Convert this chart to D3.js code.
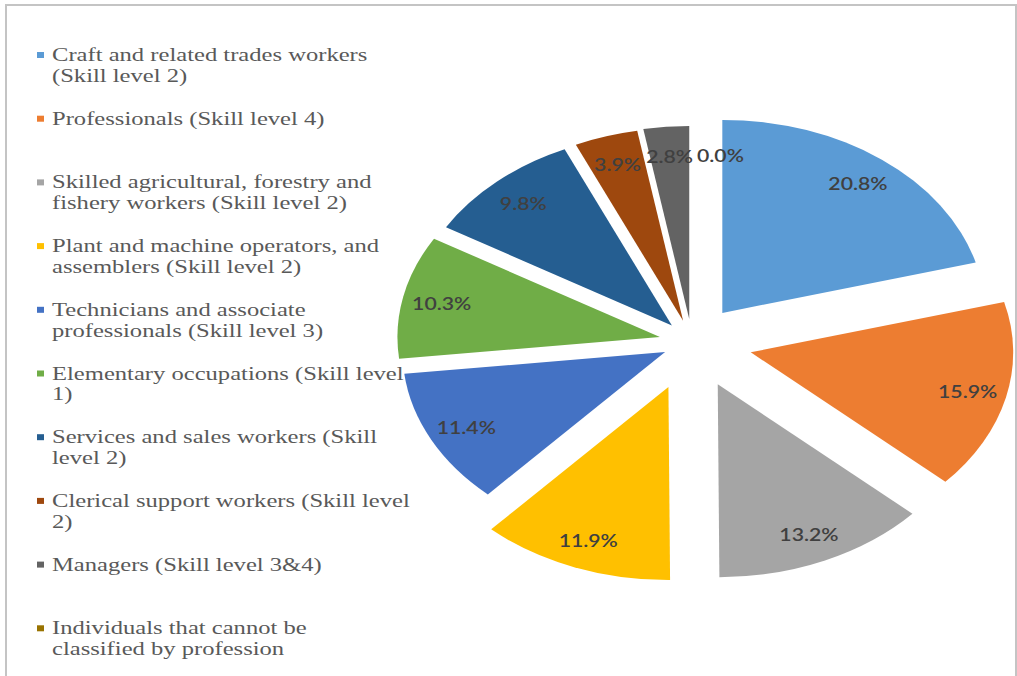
<!DOCTYPE html>
<html>
<head>
<meta charset="utf-8">
<script src="https://cdn.jsdelivr.net/npm/d3@7"></script>
<style>
  html, body { margin: 0; padding: 0; background: #fff; }
  svg { display: block; }
</style>
</head>
<body>
<svg id="chart" width="1017" height="676"></svg>
<script>
// ---- data ----
const categories = [
  "Craft and related trades workers (Skill level 2)",
  "Professionals (Skill level 4)",
  "Skilled agricultural, forestry and fishery workers (Skill level 2)",
  "Plant and machine operators, and assemblers (Skill level 2)",
  "Technicians and associate professionals (Skill level 3)",
  "Elementary occupations (Skill level 1)",
  "Services and sales workers (Skill level 2)",
  "Clerical support workers (Skill level 2)",
  "Managers (Skill level 3&4)",
  "Individuals that cannot be classified by profession"
];
const legendLines = [
  ["Craft and related trades workers", "(Skill level 2)"],
  ["Professionals (Skill level 4)"],
  ["Skilled agricultural, forestry and", "fishery workers (Skill level 2)"],
  ["Plant and machine operators, and", "assemblers (Skill level 2)"],
  ["Technicians and associate", "professionals (Skill level 3)"],
  ["Elementary occupations (Skill level", "1)"],
  ["Services and sales workers (Skill", "level 2)"],
  ["Clerical support workers (Skill level", "2)"],
  ["Managers (Skill level 3&4)"],
  ["Individuals that cannot be", "classified by profession"]
];
const values = [20.8, 15.9, 13.2, 11.9, 11.4, 10.3, 9.8, 3.9, 2.8, 0.0];

// ---- style ----
const colors = ["#5B9BD5", "#ED7D31", "#A5A5A5", "#FFC000", "#4472C4",
                "#70AD47", "#255E91", "#9E480E", "#636363", "#997300"];
const explode = [0.19, 0.23, 0.24, 0.25, 0.115, 0.125, 0.115, 0.115, 0.12, 0.12];

const W = 1017, H = 676;
const svg = d3.select("#chart");

// frame
svg.append("rect")
  .attr("x", 6).attr("y", 5).attr("width", 1010).attr("height", 700)
  .attr("fill", "#fff").attr("stroke", "#C4C4C4").attr("stroke-width", 2);

// ---- pie ----
const cx = 692, cy = 342, R = 193, k = 1.36;
const pie = d3.pie().sort(null).value(d => d).startAngle(0).endAngle(2 * Math.PI);
const arcs = pie(values);
const arc = d3.arc().innerRadius(0).outerRadius(R);

const pieG = svg.append("g").attr("transform", `translate(${cx},${cy}) scale(${k},1)`);
arcs.forEach((a, i) => {
  const mid = (a.startAngle + a.endAngle) / 2;
  const t = explode[i] * R;
  a.ox = t * Math.sin(mid);
  a.oy = -t * Math.cos(mid);
  a.mid = mid;
  if (a.value > 0) {
    pieG.append("path")
      .attr("d", arc(a))
      .attr("transform", `translate(${a.ox},${a.oy})`)
      .attr("fill", colors[i]);
  }
});

// labels
const fmt = d3.format(".1f");
const labG = svg.append("g");
arcs.forEach((a, i) => {
  const lr = 0.85 * R;
  const x = cx + k * (a.ox + lr * Math.sin(a.mid));
  const y = cy + (a.oy - lr * Math.cos(a.mid));
  const zero = a.value === 0;
  labG.append("text")
    .attr("transform", `translate(${zero ? x + 5 : x},${y + 7}) scale(1.25,1)`)
    .attr("text-anchor", zero ? "start" : "middle")
    .attr("font-family", "Lato, 'Liberation Sans', sans-serif")
    .attr("font-size", 17)
    .attr("font-weight", 600)
    .attr("fill", "#404040")
    .text(fmt(a.value) + "%");
});

// ---- legend ----
const legY0 = 55, legStep = 63.7, lineH = 21, sx = 1.33;
const legG = svg.append("g");
legendLines.forEach((lines, i) => {
  const y = legY0 + i * legStep;
  legG.append("rect")
    .attr("x", 37).attr("y", y - 3).attr("width", 7).attr("height", 6)
    .attr("fill", colors[i]);
  const tg = legG.append("g").attr("transform", `translate(52,${y + 6}) scale(${sx},1)`);
  lines.forEach((ln, j) => {
    tg.append("text")
      .attr("x", 0).attr("y", j * lineH)
      .attr("font-family", "'Liberation Serif', 'Times New Roman', serif")
      .attr("font-size", 18.5)
      .attr("fill", "#595959")
      .text(ln);
  });
});
</script>
</body>
</html>
